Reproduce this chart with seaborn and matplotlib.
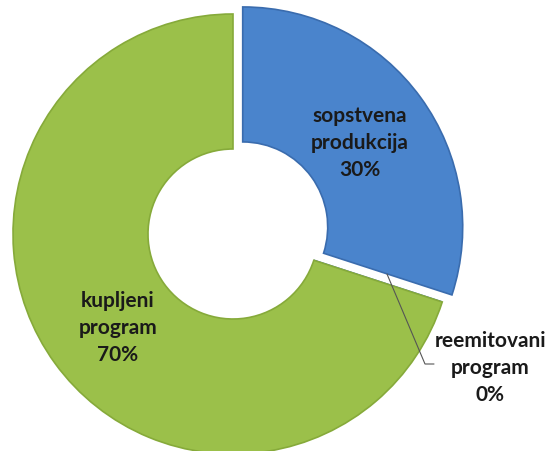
import matplotlib
matplotlib.use("Agg")
import matplotlib.pyplot as plt
import seaborn as sns

sns.set_theme(style="white")
plt.rcParams['font.family'] = ['Lato', 'DejaVu Sans']

categories = ["sopstvena\nprodukcija", "reemitovani\nprogram", "kupljeni\nprogram"]
values = [30, 0, 70]
colors = ["#4A84CC", "#4A84CC", "#9BC04A"]
edges = ["#3A6CAE", "#3A6CAE", "#86AA3A"]

fig = plt.figure(figsize=(5.53, 4.52), dpi=100)
ax = fig.add_axes([0, 0, 1, 1])

cx, cy, R, hole = 233, 217, 220, 85
wedges, _ = ax.pie(values, colors=colors, startangle=90, counterclock=False,
                   explode=[12, 0, 0], radius=R, center=(cx, cy),
                   wedgeprops=dict(width=R - hole, linewidth=1.2))
for w, ec in zip(wedges, edges):
    w.set_edgecolor(ec)
ax.set_xlim(0, 553)
ax.set_ylim(0, 452)
ax.set_aspect('equal')
ax.axis('off')

labels = [f"{c}\n{v}%" for c, v in zip(categories, values)]
positions = [(360, 452 - 143), (490, 452 - 368), (118, 452 - 328)]
for (x, y), t in zip(positions, labels):
    ax.text(x, y, t, ha='center', va='center', fontsize=15, fontweight='bold',
            color='#1a1a1a', linespacing=1.45)

ax.plot([387, 425, 434], [452 - 275, 452 - 365, 452 - 365], color='#555555', lw=0.8)

fig.savefig("out.png", dpi=100)
